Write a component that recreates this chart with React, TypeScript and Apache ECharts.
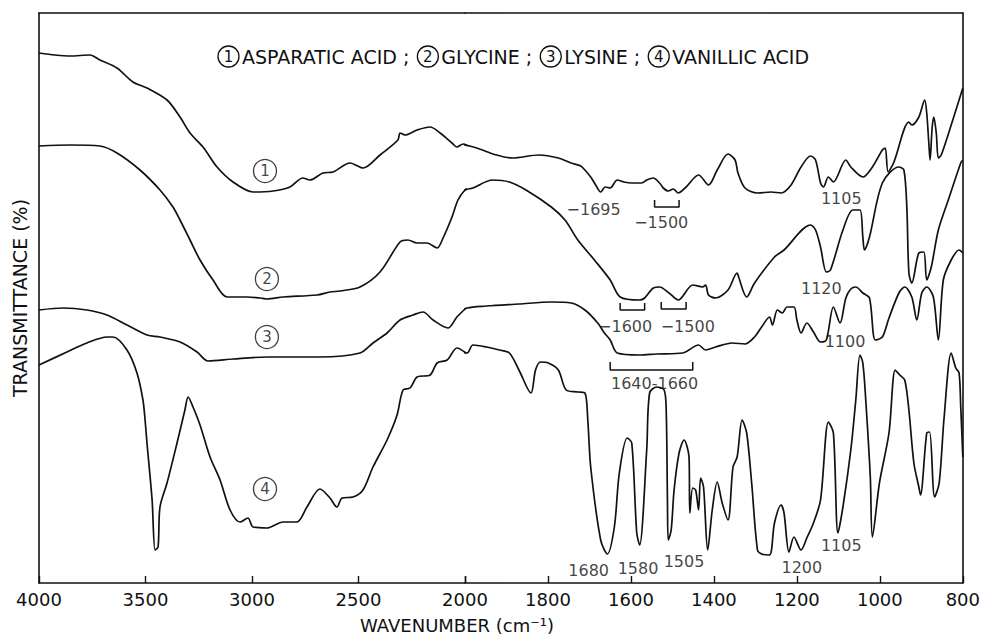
import React, { useEffect, useRef } from "react";
import * as echarts from "echarts";

const FONT = '"DejaVu Sans", "Noto Sans", sans-serif';
const BREAK_WN = 2000;

const LEGEND_ITEMS = ["ASPARATIC ACID", "GLYCINE", "LYSINE", "VANILLIC ACID"];

// [wavenumber (cm-1), transmittance (arbitrary, stacked offsets)]
const ASPARATIC: [number, number][] = [
  [4000, 530], [3925, 528], [3854, 527], [3761, 528], [3714, 523], [3634, 515], [3559, 501], [3493, 495],
  [3399, 483], [3338, 466], [3291, 450], [3230, 436], [3164, 416], [3089, 401], [2995, 391], [2901, 392],
  [2822, 396], [2761, 405], [2728, 403], [2667, 410], [2620, 411], [2540, 420], [2479, 415], [2399, 428],
  [2315, 443], [2305, 450], [2282, 448], [2225, 453], [2164, 456], [2117, 450], [2061, 440], [2038, 436],
  [2009, 439], [1972, 435], [1924, 428], [1886, 425], [1822, 428], [1775, 425], [1744, 420], [1721, 417],
  [1711, 413], [1697, 406], [1685, 398], [1673, 391], [1662, 396], [1650, 395], [1633, 403], [1617, 401],
  [1598, 400], [1574, 400], [1562, 403], [1546, 405], [1531, 400], [1522, 395], [1510, 392], [1498, 394],
  [1486, 390], [1467, 396], [1437, 408], [1413, 398], [1392, 413], [1366, 429], [1349, 423], [1342, 410],
  [1325, 395], [1295, 390], [1262, 391], [1238, 390], [1214, 398], [1190, 416], [1167, 427], [1155, 423],
  [1143, 400], [1136, 396], [1124, 406], [1112, 401], [1082, 423], [1070, 416], [1041, 406], [1018, 416],
  [994, 433], [987, 435], [980, 411], [966, 421], [930, 461], [923, 458], [906, 466], [892, 483],
  [887, 470], [882, 440], [879, 423], [874, 455], [870, 466], [864, 450], [859, 425], [852, 428],
  [828, 458], [800, 495],
];

const GLYCINE: [number, number][] = [
  [4000, 437], [3854, 438], [3714, 437], [3634, 430], [3526, 413], [3432, 393], [3371, 376], [3338, 363],
  [3291, 343], [3244, 323], [3183, 303], [3117, 286], [3023, 286], [2962, 285], [2930, 284], [2854, 286],
  [2695, 288], [2634, 291], [2587, 292], [2493, 296], [2399, 311], [2305, 341], [2268, 343], [2225, 340],
  [2178, 340], [2131, 335], [2103, 345], [2061, 366], [2033, 383], [2000, 393], [1981, 395], [1934, 403],
  [1893, 401], [1853, 393], [1792, 376], [1759, 363], [1728, 343], [1688, 323], [1650, 303], [1626, 286],
  [1579, 283], [1567, 285], [1546, 295], [1531, 296], [1508, 290], [1486, 283], [1451, 298], [1427, 296],
  [1420, 298], [1413, 288], [1396, 285], [1366, 293], [1344, 310], [1342, 308], [1321, 286], [1302, 300],
  [1254, 326], [1231, 333], [1167, 358], [1155, 353], [1143, 336], [1129, 311], [1119, 313], [1089, 353],
  [1065, 373], [1048, 373], [1041, 346], [1037, 333], [1025, 346], [994, 400], [954, 416], [942, 413],
  [935, 376], [930, 310], [923, 300], [906, 330], [894, 331], [887, 303], [876, 316], [859, 353],
  [835, 383], [805, 420], [800, 423],
];

const LYSINE: [number, number][] = [
  [4000, 273], [3887, 275], [3775, 273], [3681, 268], [3587, 258], [3493, 248], [3432, 246], [3338, 241],
  [3258, 231], [3207, 222], [3089, 224], [2930, 226], [2775, 226], [2681, 226], [2493, 230], [2432, 240],
  [2366, 250], [2305, 263], [2244, 268], [2197, 271], [2150, 263], [2080, 255], [2038, 266], [1995, 275],
  [1948, 277], [1870, 279], [1792, 281], [1744, 280], [1711, 273], [1680, 260], [1664, 250], [1650, 243],
  [1633, 230], [1579, 228], [1538, 229], [1475, 230], [1437, 238], [1420, 233], [1396, 236], [1356, 240],
  [1325, 239], [1302, 246], [1285, 256], [1266, 266], [1259, 258], [1247, 273], [1235, 270], [1224, 276],
  [1207, 276], [1200, 263], [1190, 250], [1176, 260], [1160, 251], [1143, 241], [1129, 243], [1112, 276],
  [1096, 260], [1082, 285], [1070, 294], [1058, 296], [1041, 290], [1025, 285], [1011, 243], [994, 246],
  [978, 265], [954, 290], [940, 296], [923, 286], [911, 263], [899, 290], [887, 296], [871, 286],
  [859, 243], [847, 303], [828, 323], [809, 333], [800, 330],
];

const VANILLIC: [number, number][] = [
  [4000, 218], [3869, 231], [3775, 240], [3681, 246], [3653, 246], [3587, 233], [3540, 210], [3512, 183],
  [3502, 163], [3493, 140], [3469, 83], [3455, 33], [3441, 36], [3432, 76], [3399, 100], [3352, 140],
  [3315, 173], [3300, 186], [3277, 176], [3244, 158], [3197, 126], [3150, 103], [3103, 73], [3056, 61],
  [3019, 65], [2995, 56], [2930, 55], [2854, 61], [2789, 61], [2742, 76], [2681, 94], [2634, 85],
  [2601, 76], [2577, 85], [2526, 86], [2479, 93], [2432, 116], [2366, 143], [2319, 168], [2291, 193],
  [2258, 195], [2225, 206], [2164, 208], [2131, 220], [2084, 223], [2038, 235], [1995, 230], [1981, 238],
  [1948, 236], [1917, 233], [1893, 230], [1870, 213], [1841, 190], [1830, 213], [1818, 221], [1799, 220],
  [1775, 213], [1756, 193], [1728, 191], [1711, 190], [1704, 163], [1697, 116], [1673, 43], [1657, 29],
  [1640, 56], [1628, 110], [1609, 145], [1598, 140], [1586, 50], [1579, 38], [1562, 133], [1555, 190],
  [1538, 196], [1520, 193], [1515, 173], [1512, 83], [1510, 43], [1503, 53], [1496, 93], [1484, 130],
  [1472, 143], [1460, 126], [1458, 70], [1451, 95], [1444, 93], [1437, 73], [1432, 105], [1425, 96],
  [1415, 33], [1404, 73], [1392, 101], [1380, 80], [1366, 63], [1354, 116], [1344, 126], [1332, 163],
  [1321, 150], [1309, 100], [1295, 33], [1285, 29], [1266, 28], [1254, 60], [1238, 78], [1231, 70],
  [1219, 31], [1207, 46], [1190, 33], [1176, 45], [1160, 60], [1143, 83], [1124, 161], [1112, 150],
  [1101, 50], [1089, 76], [1070, 133], [1058, 183], [1048, 228], [1041, 220], [1034, 183], [1023, 106],
  [1018, 46], [1001, 100], [978, 150], [963, 213], [952, 208], [940, 203], [930, 173], [918, 120],
  [906, 96], [902, 88], [887, 150], [880, 151], [868, 86], [857, 100], [845, 166], [828, 230],
  [817, 215], [809, 210], [805, 176], [800, 126],
];

// curve number markers: [wavenumber, T, number]
const CURVE_MARKS: [number, number, string][] = [
  [2939, 412, "1"], [2930, 304, "2"], [2930, 246, "3"], [2939, 94, "4"],
];

// band annotations: [wavenumber, T, text]
const ANNOTATIONS: [number, number, string][] = [
  [1690, 374, "−1695"], [1527, 361, "−1500"], [1614, 257, "−1600"], [1463, 257, "−1500"],
  [1543, 200, "1640-1660"], [1093, 385, "1105"], [1141, 295, "1120"], [1084, 242, "1100"],
  [1702, 13, "1680"], [1583, 15, "1580"], [1472, 22, "1505"], [1188, 16, "1200"], [1093, 38, "1105"],
];

// brackets: [wn start, wn end, bar T, tip T]
const BRACKETS: [number, number, number, number][] = [
  [1543, 1484, 376, 383], [1626, 1567, 273, 280], [1527, 1467, 274, 281], [1650, 1451, 213, 221],
];

function highPart(d: [number, number][]) {
  const out: [number, number][] = [];
  for (const p of d) {
    out.push(p);
    if (p[0] < BREAK_WN) break;
  }
  return out;
}
function lowPart(d: [number, number][]) {
  const idx = d.findIndex((p) => p[0] <= BREAK_WN);
  return d.slice(Math.max(0, idx - 1));
}

const INK = "#111";

export default function App() {
  const ref = useRef<HTMLDivElement>(null);
  useEffect(() => {
    if (!ref.current) return;
    const chart = echarts.init(ref.current, null, { renderer: "svg" });
    const axisLine = { show: true, onZero: false, lineStyle: { color: INK, width: 1.6 } };
    const tick = { show: true, inside: true, length: 7, lineStyle: { color: INK, width: 1.4 } };
    const label = { fontSize: 18, color: INK, fontFamily: FONT, margin: 7 };
    const curves = [ASPARATIC, GLYCINE, LYSINE, VANILLIC];
    const series: any[] = [];
    curves.forEach((c, i) => {
      series.push({
        type: "line", name: LEGEND_ITEMS[i] + " high", xAxisIndex: 0, yAxisIndex: 0,
        data: highPart(c), showSymbol: false, symbol: "none", clip: true, smooth: 0.3,
        lineStyle: { color: INK, width: 1.7 }, silent: true,
      });
      series.push({
        type: "line", name: LEGEND_ITEMS[i] + " low", xAxisIndex: 1, yAxisIndex: 1,
        data: lowPart(c), showSymbol: false, symbol: "none", clip: true, smooth: 0.3,
        lineStyle: { color: INK, width: 1.7 }, silent: true,
      });
    });
    BRACKETS.forEach(([a, b, bar, tip]) => {
      series.push({
        type: "line", xAxisIndex: 1, yAxisIndex: 1, symbol: "none", silent: true,
        data: [[a, tip], [a, bar], [b, bar], [b, tip]],
        lineStyle: { color: INK, width: 1.5 },
      });
    });
    series.push({
      type: "scatter", xAxisIndex: 0, yAxisIndex: 0, silent: true,
      data: CURVE_MARKS, symbol: "circle", symbolSize: 23,
      itemStyle: { color: "rgba(255,255,255,0)", borderColor: INK, borderWidth: 1.3 },
      label: {
        show: true, position: "inside", formatter: (p: any) => p.data[2], fontSize: 15, color: INK,
        fontFamily: FONT, textBorderWidth: 0,
      },
    });
    series.push({
      type: "scatter", xAxisIndex: 1, yAxisIndex: 1, silent: true,
      data: ANNOTATIONS, symbol: "circle", symbolSize: 1,
      itemStyle: { color: "rgba(255,255,255,0)" },
      label: {
        show: true, position: "inside", formatter: (p: any) => p.data[2], fontSize: 16, color: INK,
        fontFamily: FONT, textBorderWidth: 0,
      },
    });

    const legendText =
      LEGEND_ITEMS.map((n, i) => `{c|${i + 1}}{t|${n}${i < LEGEND_ITEMS.length - 1 ? " ;" : ""}}`).join("");

    chart.setOption({
      animation: false,
      backgroundColor: "#fff",
      title: {
        left: 218, top: 46, padding: 0,
        text: legendText,
        textStyle: {
          fontWeight: "normal", color: INK, fontFamily: FONT, fontSize: 19,
          rich: {
            c: {
              width: 21, height: 21, lineHeight: 21, borderRadius: 11, borderWidth: 1.3, borderColor: INK,
              align: "center", fontSize: 15, color: INK, fontFamily: FONT, fontWeight: "normal",
            },
            t: { fontSize: 19, color: INK, fontFamily: FONT, fontWeight: "normal", padding: [0, 8, 0, 3] },
          },
        },
      },
      grid: [
        { left: 39, width: 426, top: 13, bottom: 58, show: false },
        { left: 465, right: 11, top: 13, bottom: 58, show: false },
      ],
      xAxis: [
        {
          gridIndex: 0, type: "value", min: 2000, max: 4000, interval: 500, inverse: true, position: "bottom",
          axisLine, axisTick: tick, splitLine: { show: false },
          axisLabel: { ...label, formatter: (v: number) => String(v) },
        },
        {
          gridIndex: 1, type: "value", min: 800, max: 2000, interval: 200, inverse: true, position: "bottom",
          axisLine, axisTick: tick, splitLine: { show: false },
          axisLabel: { ...label, showMaxLabel: true, formatter: (v: number) => (v === BREAK_WN ? "" : String(v)) },
        },
        {
          gridIndex: 0, type: "value", min: 2000, max: 4000, inverse: true, position: "top",
          axisLine, axisTick: { show: false }, axisLabel: { show: false }, splitLine: { show: false },
        },
        {
          gridIndex: 1, type: "value", min: 800, max: 2000, inverse: true, position: "top",
          axisLine, axisTick: { show: false }, axisLabel: { show: false }, splitLine: { show: false },
        },
      ],
      yAxis: [
        {
          gridIndex: 0, type: "value", min: 0, max: 570, position: "left",
          axisLine, axisTick: { show: false }, axisLabel: { show: false }, splitLine: { show: false },
          name: "TRANSMITTANCE (%)", nameLocation: "middle", nameGap: 10,
          nameTextStyle: { fontSize: 19, color: INK, fontFamily: FONT },
        },
        {
          gridIndex: 1, type: "value", min: 0, max: 570, position: "right",
          axisLine, axisTick: { show: false }, axisLabel: { show: false }, splitLine: { show: false },
        },
      ],
      graphic: [
        {
          type: "text", left: 360, top: 616,
          style: { text: "WAVENUMBER (cm⁻¹)", font: `18px ${FONT}`, fill: INK },
        },
      ],
      series,
    });
    return () => chart.dispose();
  }, []);
  return <div ref={ref} style={{ position: "fixed", left: 0, top: 0, width: 983, height: 641 }} />;
}
